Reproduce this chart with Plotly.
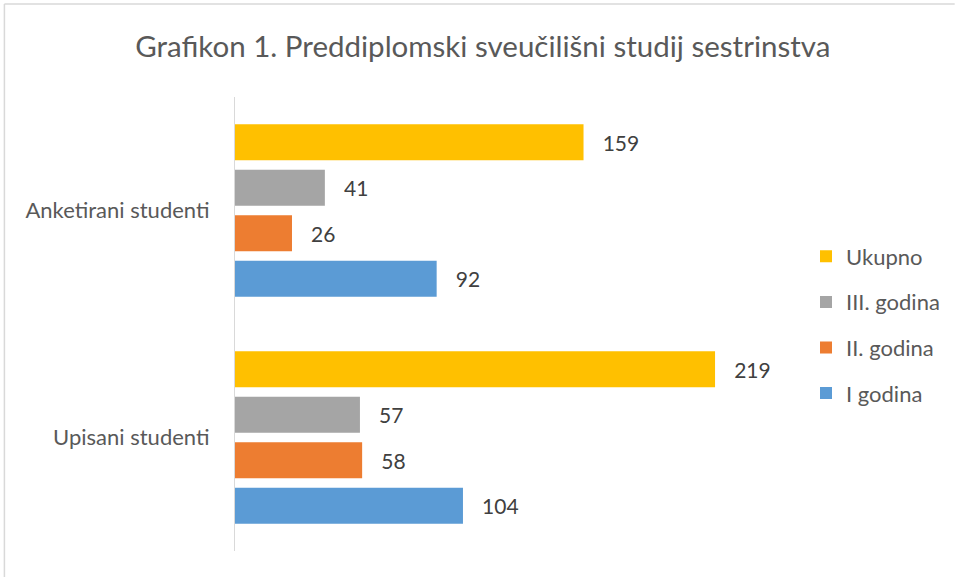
import plotly.graph_objects as go

categories = ["Upisani studenti", "Anketirani studenti"]
series_names = ["I godina", "II. godina", "III. godina", "Ukupno"]
i_godina = [104, 92]
ii_godina = [58, 26]
iii_godina = [57, 41]
ukupno = [219, 159]
colors = ["#5B9BD5", "#ED7D31", "#A5A5A5", "#FFC000"]

values = [i_godina, ii_godina, iii_godina, ukupno]

W, H = 956, 577
L, R, T, B = 235, 172, 97, 26
pw, ph = W - L - R, H - T - B

fig = go.Figure()
n = len(series_names)
for i, (name, vals, col) in enumerate(zip(series_names, values, colors)):
    fig.add_trace(go.Bar(
        y=categories, x=vals, name=name, orientation="h",
        marker=dict(color=col, line=dict(width=0)),
        text=vals, texttemplate="\u00a0\u00a0\u00a0%{x}",
        textposition="outside", cliponaxis=False, constraintext="none",
        textfont=dict(family="Lato", size=21, color="#404040"),
        legendgroup=f"g{i}", legendrank=1000 + (n - i),
    ))

def px_x(p):
    return (p - L) / pw

def px_y(p):
    return (H - B - p) / ph

fig.update_layout(
    width=W, height=H,
    margin=dict(l=L, r=R, t=T, b=B),
    paper_bgcolor="white", plot_bgcolor="white",
    barmode="group", bargap=0.198, bargroupgap=0.21,
    title=dict(text="Grafikon 1. Preddiplomski sveučilišni studij sestrinstva",
               x=0.505, xanchor="center", y=1 - 47 / H, yanchor="middle",
               font=dict(family="Lato", size=29.5, color="#595959")),
    xaxis=dict(range=[0, 250], showgrid=False, zeroline=False, showticklabels=False,
               showline=False, fixedrange=True),
    yaxis=dict(categoryorder="array", categoryarray=categories,
               showline=True, linecolor="#D9D9D9", linewidth=1.2,
               ticks="", ticklabelstandoff=20, showgrid=False,
               tickfont=dict(family="Lato", size=22, color="#595959")),
    legend=dict(traceorder="grouped", x=px_x(806), xanchor="left",
                y=px_y(325), yanchor="middle", tracegroupgap=14,
                font=dict(family="Lato", size=22, color="#595959"),
                itemwidth=30, bgcolor="rgba(0,0,0,0)"),
    showlegend=True,
    shapes=[
        dict(type="line", xref="paper", yref="paper",
             x0=px_x(4), x1=px_x(4), y0=px_y(577), y1=px_y(4),
             line=dict(color="#D9D9D9", width=1.5)),
        dict(type="line", xref="paper", yref="paper",
             x0=px_x(4), x1=px_x(956), y0=px_y(4), y1=px_y(4),
             line=dict(color="#D9D9D9", width=1.5)),
    ],
)

fig.write_html("out.html", config={"displayModeBar": False},
               post_script="document.body.style.margin='0';document.body.style.overflow='hidden';")
